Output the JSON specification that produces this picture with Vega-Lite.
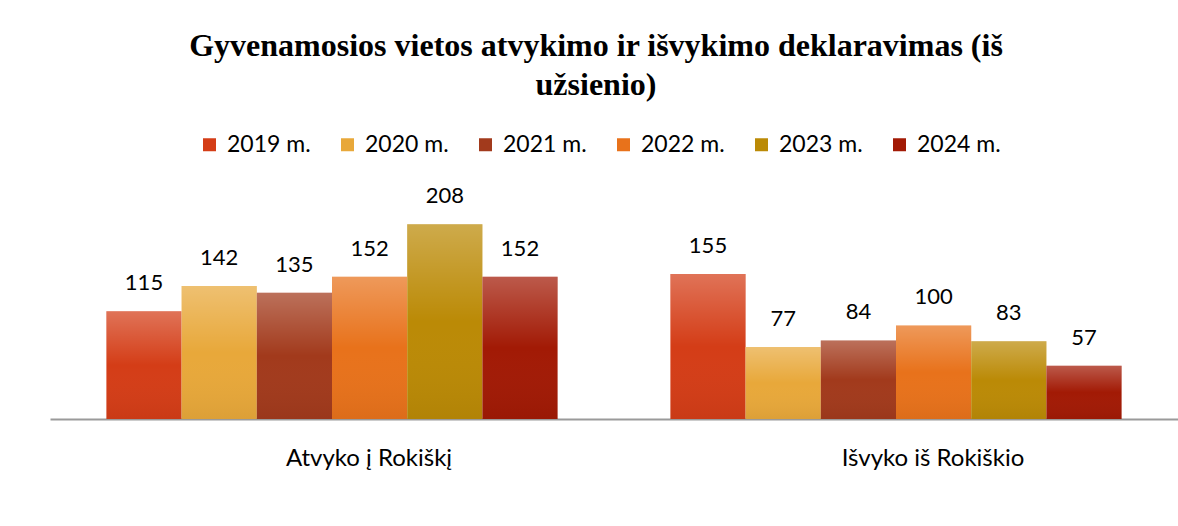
{
  "$schema": "https://vega.github.io/schema/vega-lite/v6.json",
  "width": 1128,
  "height": 234,
  "autosize": {"type": "none"},
  "padding": {"left": 50, "top": 185, "right": 0, "bottom": 107},
  "background": "white",
  "config": {"view": {"stroke": null}},
  "title": {
    "text": ["Gyvenamosios vietos atvykimo ir išvykimo deklaravimas (iš", "užsienio)"],
    "font": "Liberation Serif",
    "fontSize": 32,
    "fontWeight": "bold",
    "color": "#000000",
    "lineHeight": 39,
    "anchor": "middle",
    "dx": -18,
    "offset": 31
  },
  "data": {
    "values": [
      {"kryptis": "Atvyko į Rokiškį", "metai": "2019 m.", "kiekis": 115},
      {"kryptis": "Atvyko į Rokiškį", "metai": "2020 m.", "kiekis": 142},
      {"kryptis": "Atvyko į Rokiškį", "metai": "2021 m.", "kiekis": 135},
      {"kryptis": "Atvyko į Rokiškį", "metai": "2022 m.", "kiekis": 152},
      {"kryptis": "Atvyko į Rokiškį", "metai": "2023 m.", "kiekis": 208},
      {"kryptis": "Atvyko į Rokiškį", "metai": "2024 m.", "kiekis": 152},
      {"kryptis": "Išvyko iš Rokiškio", "metai": "2019 m.", "kiekis": 155},
      {"kryptis": "Išvyko iš Rokiškio", "metai": "2020 m.", "kiekis": 77},
      {"kryptis": "Išvyko iš Rokiškio", "metai": "2021 m.", "kiekis": 84},
      {"kryptis": "Išvyko iš Rokiškio", "metai": "2022 m.", "kiekis": 100},
      {"kryptis": "Išvyko iš Rokiškio", "metai": "2023 m.", "kiekis": 83},
      {"kryptis": "Išvyko iš Rokiškio", "metai": "2024 m.", "kiekis": 57}
    ]
  },
  "encoding": {
    "x": {
      "field": "kryptis",
      "type": "nominal",
      "scale": {"paddingInner": 0.2, "paddingOuter": 0.1},
      "axis": {
        "title": null,
        "labelAngle": 0,
        "labelFont": "Lato",
        "labelFontSize": 24,
        "labelColor": "#000000",
        "labelPadding": 27,
        "labelOffset": 37,
        "labelLimit": 400,
        "ticks": false,
        "domainColor": "#9a9a9a",
        "domainWidth": 2
      }
    },
    "xOffset": {"field": "metai", "type": "nominal", "scale": {"paddingInner": 0, "paddingOuter": 0}},
    "y": {
      "field": "kiekis",
      "type": "quantitative",
      "scale": {"domain": [0, 250]},
      "axis": null
    }
  },
  "layer": [
    {
      "mark": {"type": "bar"},
      "encoding": {
        "color": {
          "field": "metai",
          "type": "nominal",
          "scale": {
            "range": ["#d43d17", "#e8a83a", "#a23a1c", "#e8721b", "#bb8a06", "#a21a05"]
          },
          "legend": {
            "title": null,
            "orient": "none",
            "direction": "horizontal",
            "legendX": 148,
            "legendY": -52,
            "columns": 6,
            "columnPadding": 25,
            "symbolType": "square",
            "symbolSize": 169,
            "symbolStrokeWidth": 0,
            "symbolOpacity": 1,
            "labelFont": "Lato",
            "labelFontSize": 23,
            "labelColor": "#000000",
            "labelOffset": 6
          }
        }
      }
    },
    {
      "mark": {
        "type": "bar",
        "color": {
          "gradient": "linear", "x1": 0, "y1": 0, "x2": 0, "y2": 1,
          "stops": [
            {"offset": 0, "color": "rgba(255,255,255,0.28)"},
            {"offset": 0.5, "color": "rgba(255,255,255,0)"},
            {"offset": 1, "color": "rgba(0,0,0,0.05)"}
          ]
        }
      },
      "encoding": {}
    },
    {
      "mark": {"type": "text", "font": "Lato", "fontSize": 22, "color": "#000000", "baseline": "bottom", "dy": -16},
      "encoding": {
        "text": {"field": "kiekis", "type": "quantitative"}
      }
    }
  ]
}
